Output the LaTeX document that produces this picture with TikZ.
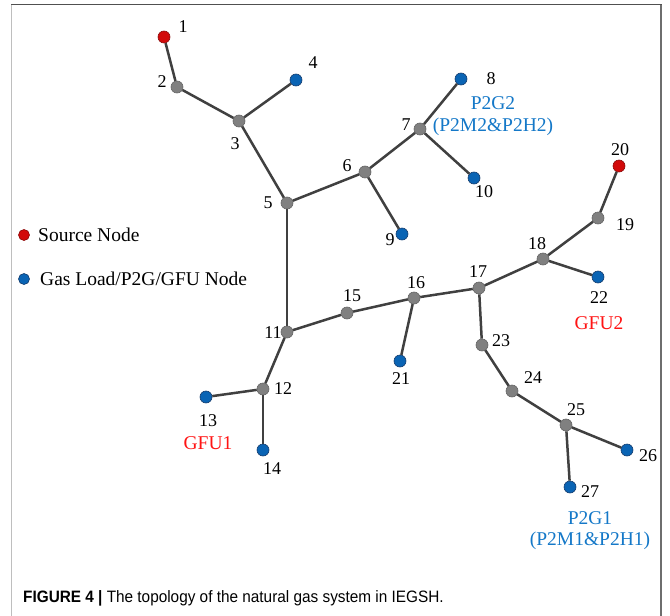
\documentclass[tikz,border=0pt]{standalone}
\usepackage{fontspec}
\setmainfont{Liberation Serif}
\newfontfamily\capfont{Liberation Sans}
\usetikzlibrary{positioning}
\definecolor{dotgray}{RGB}{128,128,128}
\definecolor{dotgrayd}{RGB}{100,100,100}
\definecolor{dotblue}{RGB}{10,100,180}
\definecolor{dotblued}{RGB}{20,60,110}
\definecolor{dotred}{RGB}{210,10,10}
\definecolor{dotredd}{RGB}{140,10,10}
\definecolor{edgec}{RGB}{64,64,64}
\definecolor{lblblue}{RGB}{20,120,200}
\definecolor{lblred}{RGB}{255,20,20}
\tikzset{
  junc/.style={circle,inner sep=0pt,minimum size=12pt,fill=dotgray,draw=dotgrayd,line width=0.6pt},
  load/.style={circle,inner sep=0pt,minimum size=12pt,fill=dotblue,draw=dotblued,line width=0.6pt},
  src/.style={circle,inner sep=0pt,minimum size=12pt,fill=dotred,draw=dotredd,line width=0.6pt},
  num/.style={inner sep=0pt,font=\fontsize{18}{18}\selectfont},
  tag/.style={inner sep=0pt,font=\fontsize{19.5}{20}\selectfont},
  pipe/.style={draw=edgec,line width=2.5pt},
}
\begin{document}
\begin{tikzpicture}[x=1pt,y=-1pt]
\useasboundingbox[fill=white] (0,0) rectangle (670,616);
% frame
\draw[draw={rgb,255:red,80;green,80;blue,80},line width=1.5pt] (11,4.5) -- (661.5,4.5);
\draw[draw={rgb,255:red,190;green,190;blue,190},line width=1.5pt] (11.5,4.5) -- (11.5,616);
\draw[draw={rgb,255:red,110;green,110;blue,110},line width=1.5pt] (661,4.5) -- (661,616);
% nodes
\node[src]  (n1)  at (164,37) {};
\node[junc] (n2)  at (177,87) {};
\node[junc] (n3)  at (239,121) {};
\node[load] (n4)  at (296,80) {};
\node[junc] (n5)  at (287,203) {};
\node[junc] (n6)  at (365,172) {};
\node[junc] (n7)  at (420,129) {};
\node[load] (n8)  at (461,79) {};
\node[load] (n9)  at (402,234) {};
\node[load] (n10) at (474,178) {};
\node[junc] (n11) at (287,332) {};
\node[junc] (n12) at (263,389) {};
\node[load] (n13) at (206,397) {};
\node[load] (n14) at (263,450) {};
\node[junc] (n15) at (347,313) {};
\node[junc] (n16) at (414,298) {};
\node[junc] (n17) at (479,288) {};
\node[junc] (n18) at (543,259) {};
\node[junc] (n19) at (598,218) {};
\node[src]  (n20) at (619,166) {};
\node[load] (n21) at (400,361) {};
\node[load] (n22) at (598,277) {};
\node[junc] (n23) at (482,345) {};
\node[junc] (n24) at (512,391) {};
\node[junc] (n25) at (566,425) {};
\node[load] (n26) at (627,450) {};
\node[load] (n27) at (570,487) {};
% pipes
\foreach \a/\b in {1/2,2/3,3/4,3/5,5/6,6/7,7/8,7/10,6/9,5/11,11/12,12/13,12/14,11/15,15/16,16/21,16/17,17/18,18/19,19/20,18/22,17/23,23/24,24/25,25/26,25/27}
  \draw[pipe] (n\a) -- (n\b);
% number labels
\node[num] (l1)  at (183,27) {1};
\node[num] (l2)  at (162,82) {2};
\node[num] (l3)  at (235,144) {3};
\node[num] (l4)  at (313,63) {4};
\node[num] (l5)  at (268,203) {5};
\node[num] (l6)  at (347,166) {6};
\node[num] (l7)  at (406,125) {7};
\node[num] (l8)  at (491,79) {8};
\node[num] (l9)  at (390,240) {9};
\node[num] (l10) at (484,192) {10};
\node[num] (l11) at (273,333) {11};
\node[num] (l12) at (283,389) {12};
\node[num] (l13) at (208,421) {13};
\node[num] (l14) at (272,469) {14};
\node[num] (l15) at (352,296) {15};
\node[num] (l16) at (416,283) {16};
\node[num] (l17) at (478,272) {17};
\node[num] (l18) at (537,244) {18};
\node[num] (l19) at (625,225) {19};
\node[num] (l20) at (620,150) {20};
\node[num] (l21) at (401,379) {21};
\node[num] (l22) at (599,298) {22};
\node[num] (l23) at (501,341) {23};
\node[num] (l24) at (533,378) {24};
\node[num] (l25) at (576,410) {25};
\node[num] (l26) at (648,456) {26};
\node[num] (l27) at (590,492) {27};
% device tags
\node[tag,text=lblblue] (t8a) at (493,103) {P2G2};
\node[tag,text=lblblue] (t8b) at (493,127) {(P2M2\&P2H2)};
\node[tag,text=lblred]  (t13) at (208,443) {GFU1};
\node[tag,text=lblred]  (t22) at (599,323) {GFU2};
\node[tag,text=lblblue] (t27a) at (590,518) {P2G1};
\node[tag,text=lblblue] (t27b) at (590,541) {(P2M1\&P2H1)};
% legend
\node[src,minimum size=11pt]  (lg1) at (24,235) {};
\node[tag,anchor=west] (lg1t) at (38,235) {Source Node};
\node[load,minimum size=11pt] (lg2) at (24,279) {};
\node[tag,anchor=west] (lg2t) at (40,279) {Gas Load/P2G/GFU Node};
% caption
\node[inner sep=0pt,anchor=west,font=\capfont\fontsize{16.5}{17}\selectfont] (cap) at (23,598)
  {\scalebox{0.93}[1]{\textbf{FIGURE 4 |} The topology of the natural gas system in IEGSH.}};
\end{tikzpicture}
\end{document}
